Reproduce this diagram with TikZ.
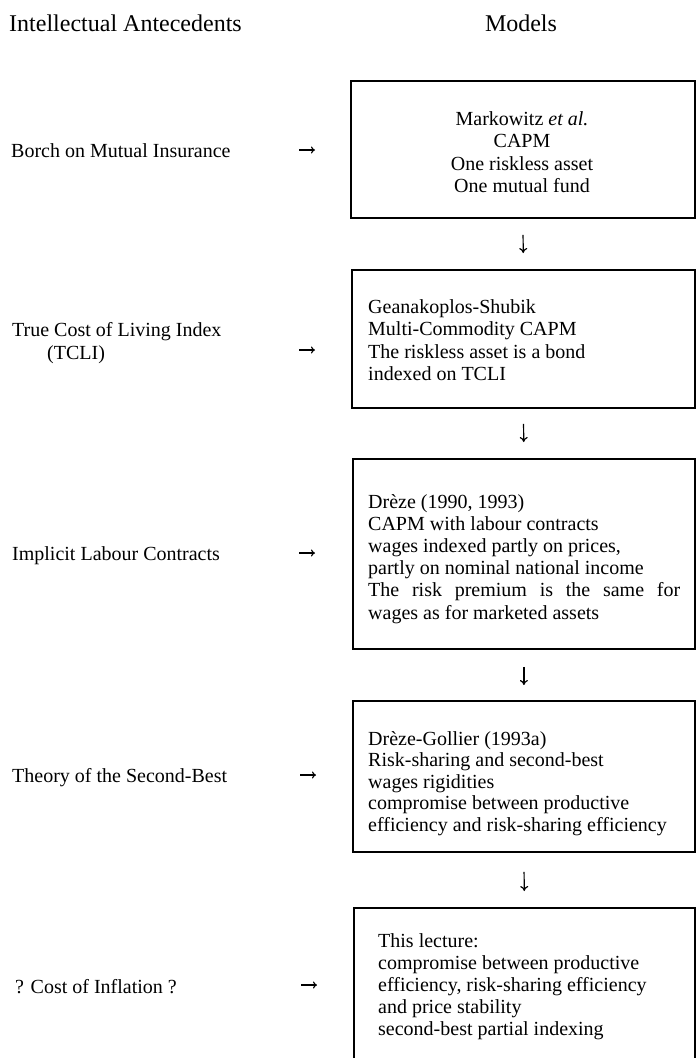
\documentclass[tikz,border=0pt]{standalone}
\usepackage{fontspec}
\setmainfont{Liberation Serif}
\usetikzlibrary{arrows.meta}
\tikzset{
  hdr/.style={inner sep=0pt, font=\fontsize{24}{27}\selectfont},
  lbl/.style={anchor=base west, inner sep=0pt, font=\fontsize{20}{23}\selectfont},
  txt/.style={anchor=base west, inner sep=0pt, font=\fontsize{20}{22.5}\selectfont},
  mbox/.style={draw, line width=1.8pt, anchor=north west, inner sep=0pt},
  harr/.style={-{To[length=4pt,width=7pt]}, line width=1.1pt},
  darr/.style={-{To[length=5pt,width=8pt]}, line width=1.2pt}
}
\begin{document}
\begin{tikzpicture}[x=1pt,y=-1pt]
\useasboundingbox (0,0) rectangle (696,1058);
% headers
\node[hdr, anchor=base west] (hl) at (9,31) {Intellectual Antecedents};
\node[hdr, anchor=base] (hr) at (521,31) {Models};
% left labels
\node[lbl] (l1) at (11,157) {Borch on Mutual Insurance};
\node[lbl] (l2) at (12,336) {\begin{tabular}[t]{@{}l@{}}True Cost of Living Index\\\hspace{35pt}(TCLI)\end{tabular}};
\node[lbl] (l3) at (12,560) {Implicit Labour Contracts};
\node[lbl] (l4) at (12,782) {Theory of the Second-Best};
\node[lbl] (l5) at (15,993) {? Cost of Inflation ?};
% boxes
\node[mbox, minimum width=344pt, minimum height=137pt] (m1) at (350,80) {};
\node[mbox, minimum width=343pt, minimum height=138pt] (m2) at (351,269) {};
\node[mbox, minimum width=342pt, minimum height=190pt] (m3) at (352,458) {};
\node[mbox, minimum width=342pt, minimum height=151pt] (m4) at (352,700) {};
\begin{scope}
\clip (0,0) rectangle (696,1058);
\node[mbox, minimum width=341pt, minimum height=175pt] (m5) at (353,907) {};
\end{scope}
% box texts
\node[txt, anchor=base] (t1) at (522,125) {\begin{tabular}[t]{@{}c@{}}Markowitz \textit{et al.}\\CAPM\\One riskless asset\\One mutual fund\end{tabular}};
\node[txt] (t2) at (368,313) {\begin{tabular}[t]{@{}l@{}}Geanakoplos-Shubik\\Multi-Commodity CAPM\\The riskless asset is a bond\\indexed on TCLI\end{tabular}};
\node[txt, font=\fontsize{20}{22.2}\selectfont] (t3) at (368,508) {\begin{tabular}[t]{@{}l@{}}Drèze (1990, 1993)\\CAPM with labour contracts\\wages indexed partly on prices,\\partly on nominal national income\\\makebox[312pt][s]{The risk premium is the same for}\\wages as for marketed assets\end{tabular}};
\node[txt, font=\fontsize{20}{21.5}\selectfont] (t4) at (368,745) {\begin{tabular}[t]{@{}l@{}}Drèze-Gollier (1993a)\\Risk-sharing and second-best\\wages rigidities\\compromise between productive\\efficiency and risk-sharing efficiency\end{tabular}};
\node[txt, font=\fontsize{20}{22.2}\selectfont] (t5) at (378,947) {\begin{tabular}[t]{@{}l@{}}This lecture:\\compromise between productive\\efficiency, risk-sharing efficiency\\and price stability\\second-best partial indexing\end{tabular}};
% horizontal arrows
\coordinate (h1a) at (299,150); \coordinate (h1b) at (315,150);
\coordinate (h2a) at (299,350); \coordinate (h2b) at (315,350);
\coordinate (h3a) at (299,553); \coordinate (h3b) at (315,553);
\coordinate (h4a) at (300,775); \coordinate (h4b) at (316,775);
\coordinate (h5a) at (301,985); \coordinate (h5b) at (317,985);
\draw[harr] (h1a) -- (h1b);
\draw[harr] (h2a) -- (h2b);
\draw[harr] (h3a) -- (h3b);
\draw[harr] (h4a) -- (h4b);
\draw[harr] (h5a) -- (h5b);
% vertical arrows
\draw[darr, shorten <=16pt, shorten >=16pt] (m1.south) -- (m2.north);
\draw[darr, shorten <=15pt, shorten >=16pt] (m2.south) -- (m3.north);
\draw[darr, shorten <=17pt, shorten >=15pt] (m3.south) -- (m4.north);
\draw[darr, shorten <=19pt, shorten >=16pt] (m4.south) -- (m5.north);
\end{tikzpicture}
\end{document}
